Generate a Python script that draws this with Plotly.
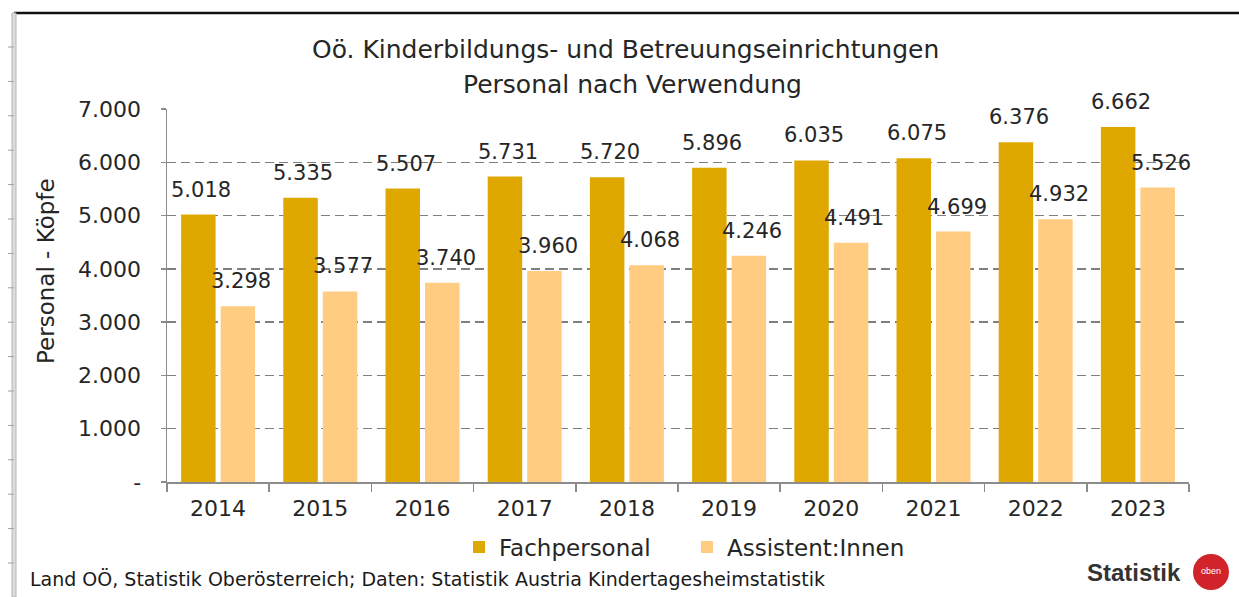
import plotly.graph_objects as go

years = ["2014", "2015", "2016", "2017", "2018", "2019", "2020", "2021", "2022", "2023"]
fachpersonal = [5018, 5335, 5507, 5731, 5720, 5896, 6035, 6075, 6376, 6662]
assistent = [3298, 3577, 3740, 3960, 4068, 4246, 4491, 4699, 4932, 5526]
y_ticks = [0, 1000, 2000, 3000, 4000, 5000, 6000, 7000]
y_ticktext = ["-", "1.000", "2.000", "3.000", "4.000", "5.000", "6.000", "7.000"]

C_FACH = "#DFA800"
C_ASSI = "#FFCC82"
TXT = "#262626"
FONT = "DejaVu Sans"

W, H = 1239, 597
L, R, T, B = 167, 50, 109, 115
PW, PH = W - L - R, H - T - B


def px(x):
    return (x - L) / PW


def py(y):
    return (H - B - y) / PH


def fmt(v):
    return f"{v:,}".replace(",", ".")


fig = go.Figure()
fig.add_trace(go.Bar(x=years, y=fachpersonal, name="Fachpersonal", marker_color=C_FACH,
                     marker_line_width=0))
fig.add_trace(go.Bar(x=years, y=assistent, name="Assistent:Innen", marker_color=C_ASSI,
                     marker_line_width=0))

annotations = []
for i, v in enumerate(fachpersonal):
    annotations.append(dict(x=i, y=v, xref="x", yref="y", text=fmt(v), showarrow=False,
                            xshift=-17, yshift=25, yanchor="middle",
                            font=dict(family=FONT, size=21, color=TXT)))
for i, v in enumerate(assistent):
    annotations.append(dict(x=i, y=v, xref="x", yref="y", text=fmt(v), showarrow=False,
                            xshift=23, yshift=25, yanchor="middle",
                            font=dict(family=FONT, size=21, color=TXT)))

# titles
annotations.append(dict(x=px(625), y=py(50), xref="paper", yref="paper", showarrow=False,
                        text="Oö. Kinderbildungs- und Betreuungseinrichtungen",
                        xanchor="center", yanchor="middle",
                        font=dict(family=FONT, size=25, color=TXT)))
annotations.append(dict(x=px(632), y=py(85), xref="paper", yref="paper", showarrow=False,
                        text="Personal nach Verwendung",
                        xanchor="center", yanchor="middle",
                        font=dict(family=FONT, size=25, color=TXT)))
# y axis title
annotations.append(dict(x=px(46), y=py(271), xref="paper", yref="paper", showarrow=False,
                        text="Personal - Köpfe", textangle=-90,
                        xanchor="center", yanchor="middle",
                        font=dict(family=FONT, size=23, color=TXT)))
# footer
annotations.append(dict(x=px(28), y=py(579), xref="paper", yref="paper", showarrow=False,
                        text="Land OÖ, Statistik Oberösterreich; Daten: Statistik Austria Kindertagesheimstatistik",
                        xanchor="left", yanchor="middle",
                        font=dict(family=FONT, size=19, color="#1a1a1a")))
# logo text
annotations.append(dict(x=px(1183), y=py(572), xref="paper", yref="paper", showarrow=False,
                        text="<b>Statistik</b>", xanchor="right", yanchor="middle",
                        font=dict(family="Liberation Sans", size=24, color="#333333")))
annotations.append(dict(x=px(1211), y=py(571), xref="paper", yref="paper", showarrow=False,
                        text="oben", xanchor="center", yanchor="middle",
                        font=dict(family="Liberation Sans", size=9, color="white")))

shapes = []
# Excel-like frame: top black line, left gray border with row ticks
shapes.append(dict(type="line", xref="paper", yref="paper", x0=px(14), x1=px(W), y0=py(13), y1=py(13),
                   line=dict(color="#111111", width=2.5)))
shapes.append(dict(type="rect", xref="paper", yref="paper", x0=px(12), x1=px(16), y0=py(13), y1=py(H),
                   fillcolor="#dcdcdc", line=dict(color="#b5b5b5", width=1)))
yy = 47.0
while yy < H:
    shapes.append(dict(type="line", xref="paper", yref="paper", x0=px(8), x1=px(14), y0=py(yy), y1=py(yy),
                       line=dict(color="#a0a0a0", width=1)))
    yy += 34.4
# logo circle
shapes.append(dict(type="circle", xref="paper", yref="paper", x0=px(1193), x1=px(1229),
                   y0=py(590), y1=py(554), fillcolor="#D2232A", line=dict(width=0)))

fig.update_layout(
    width=W, height=H,
    margin=dict(l=L, r=R, t=T, b=B),
    paper_bgcolor="white", plot_bgcolor="white",
    barmode="group", bargap=0.227, bargroupgap=0.127,
    font=dict(family=FONT, color=TXT),
    showlegend=True,
    legend=dict(orientation="h", x=px(459), xanchor="left", y=py(547), yanchor="middle",
                font=dict(family=FONT, size=23, color=TXT), entrywidth=183,
                bgcolor="rgba(0,0,0,0)"),
    annotations=annotations,
    shapes=shapes,
)
fig.update_xaxes(
    type="category", range=[-0.5, len(years) - 0.5],
    showline=True, linecolor="#8c8c8c", linewidth=1.5,
    ticks="outside", tickson="boundaries", ticklen=8, tickcolor="#8c8c8c", tickwidth=1.5,
    tickfont=dict(family=FONT, size=22, color=TXT), showgrid=False, ticklabelstandoff=6,
)
fig.update_yaxes(
    range=[0, 7000], tickvals=y_ticks, ticktext=y_ticktext,
    showline=True, linecolor="#8c8c8c", linewidth=1.5,
    ticks="outside", ticklen=5, tickcolor="#8c8c8c", tickwidth=1.5,
    showgrid=True, gridcolor="#7f7f7f", gridwidth=1.4, griddash="9px,5px",
    zeroline=False, ticklabelstandoff=15,
    tickfont=dict(family=FONT, size=22, color=TXT),
)

fig.write_html("out.html", config={"displayModeBar": False, "staticPlot": True},
               post_script="document.body.style.margin='0';document.body.style.overflow='hidden';")
